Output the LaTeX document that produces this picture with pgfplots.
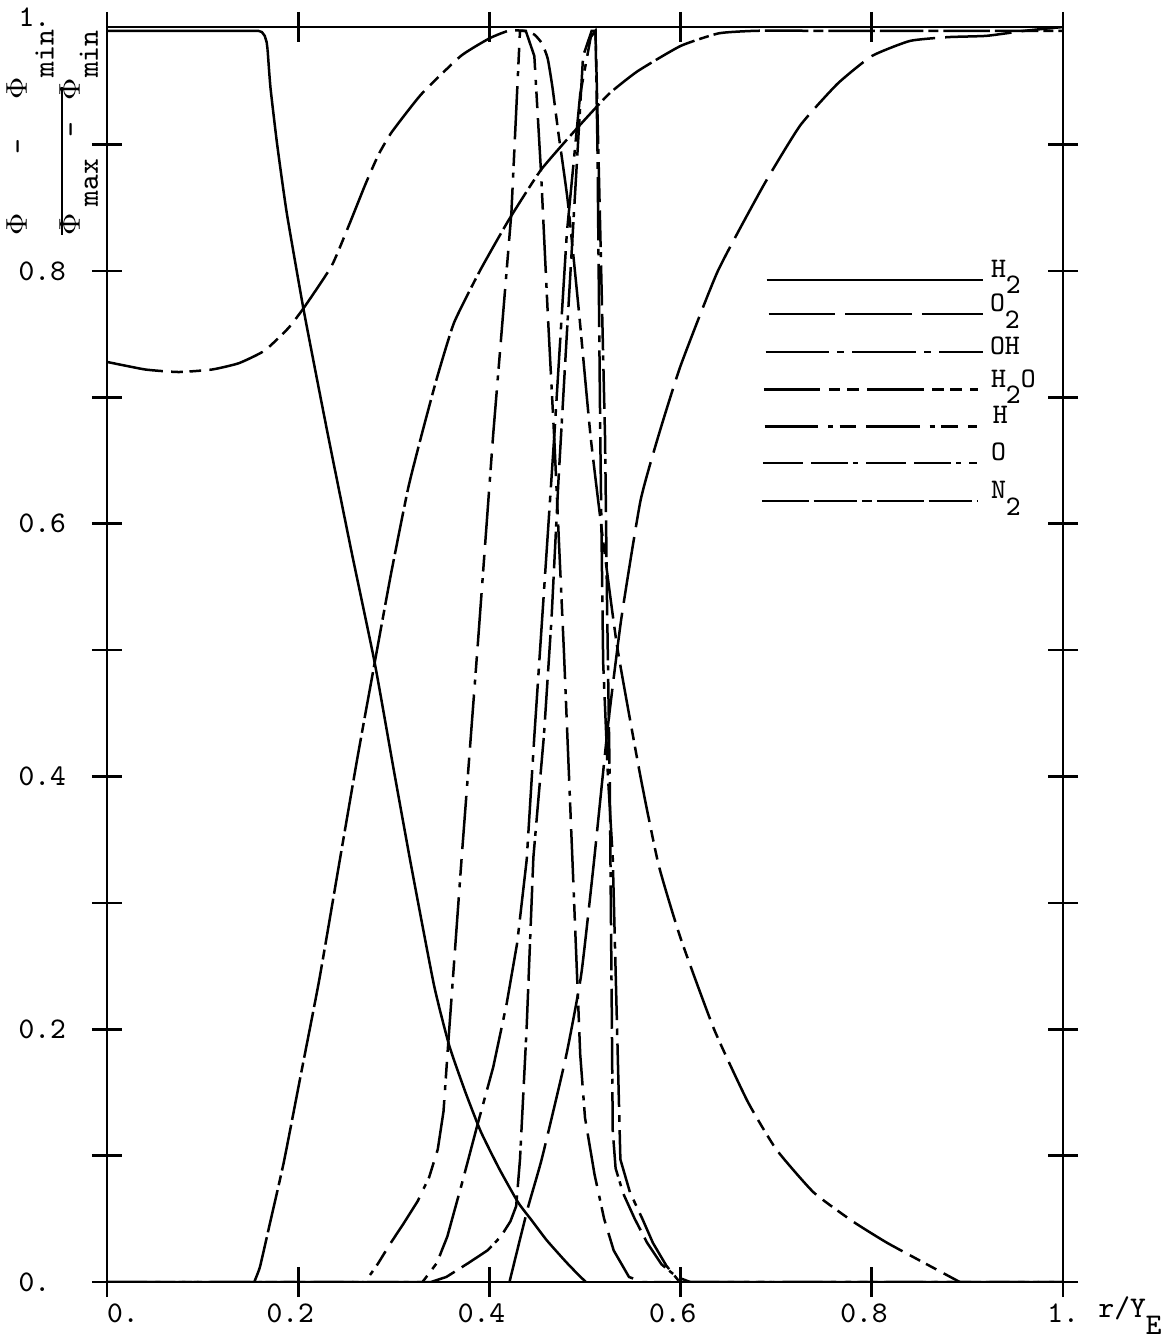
\documentclass[border=0pt]{standalone}
\usepackage{fontspec}
\usepackage{pgfplots}
\pgfplotsset{compat=1.18}

\tikzset{
 sH2/.style={solid},
 sO2/.style={dash pattern=on 20pt off 3pt},
 sOH/.style={dash pattern=on 19pt off 2.5pt on 2pt off 2.5pt},
 sH2O/.style={dash pattern=on 17pt off 2.5pt on 3.5pt off 2pt on 3.5pt off 2.5pt},
 sH/.style={dash pattern=on 16pt off 3pt on 1.5pt off 2pt on 5pt off 3pt},
 sO/.style={dash pattern=on 12pt off 2.5pt on 11pt off 1.5pt on 1.5pt off 2.5pt},
 sN2/.style={dash pattern=on 14pt off 1.5pt on 13pt off 1.5pt on 3pt off 1.5pt},
}
\newcommand{\tf}{\ttfamily\fontsize{9}{10}\selectfont}

\begin{document}
\begin{tikzpicture}
\begin{axis}[name=ax, scale only axis, width=286.8pt, height=376.5pt,
 xmin=0, xmax=1, ymin=0, ymax=0.993,
 axis line style={line width=0.8pt},
 tick style={line width=0.8pt, black},
 major tick length=9pt, tick align=center,
 xtick={0,0.2,0.4,0.6,0.8,1},
 xticklabels={\phantom{0.}0.,0.2\phantom{0},0.4\phantom{0},0.6\phantom{0},0.8\phantom{0},1.},
 ytick={0,0.1,0.2,0.3,0.4,0.5,0.6,0.7,0.8,0.9},
 yticklabels={0.,,0.2,,0.4,,0.6,,0.8,},
 xtick pos=both, ytick pos=both,
 xticklabel pos=lower, yticklabel pos=left,
 xticklabel style={font=\tf, inner sep=0pt, anchor=north, yshift=-1.8pt},
 yticklabel style={font=\tf, inner sep=0pt, anchor=west, xshift=-22.2pt},
 clip mode=individual,
 every axis plot/.append style={line width=0.75pt, black},
]
% H2
\addplot[sH2] coordinates {(0,0.99)(0.158,0.99)(0.162,0.989)(0.165,0.986)(0.167,0.981)(0.168,0.975)};
\addplot[sH2, smooth, tension=0.3] coordinates {(0.168,0.975)(0.171,0.945)(0.178,0.90)(0.188,0.846)(0.205,0.772)(0.22,0.713)(0.233,0.663)(0.256,0.577)(0.28,0.49)(0.3,0.405)(0.318,0.33)(0.342,0.235)(0.358,0.187)(0.375,0.15)(0.391,0.119)(0.41,0.09)(0.43,0.063)(0.444,0.049)(0.46,0.033)(0.48,0.016)(0.494,0.005)(0.501,0)};
\addplot[sH2] coordinates {(0.501,0)(1,0)};
% O2
\addplot[sO2, smooth, tension=0.3] coordinates {(0.421,0)(0.44,0.058)(0.455,0.098)(0.48,0.178)(0.496,0.243)(0.509,0.33)(0.524,0.44)(0.538,0.525)(0.558,0.618)(0.577,0.67)(0.6,0.725)(0.639,0.80)(0.687,0.868)(0.725,0.915)(0.764,0.948)(0.8,0.97)(0.84,0.982)(0.88,0.985)(0.92,0.986)(0.96,0.99)(1,0.993)};
\addplot[sO2] coordinates {(0,0)(0.421,0)};
% OH
\addplot[sOH] coordinates {(0,0)(0.33,0)(0.345,0.015)(0.356,0.036)(0.372,0.08)(0.387,0.123)(0.404,0.17)(0.418,0.22)(0.429,0.268)(0.439,0.334)(0.447,0.432)(0.461,0.591)(0.468,0.671)(0.481,0.83)(0.495,0.94)(0.506,0.985)(0.511,0.99)(0.513,0.9)(0.516,0.667)(0.519,0.49)(0.524,0.4)(0.529,0.336)(0.533,0.217)(0.537,0.097)(0.547,0.071)(0.56,0.05)(0.571,0.031)(0.585,0.013)(0.599,0)(1,0)};
% H2O
\addplot[sH2O, smooth, tension=0.3] coordinates {(0,0.728)(0.04,0.722)(0.075,0.72)(0.11,0.722)(0.138,0.727)(0.165,0.737)(0.19,0.755)(0.207,0.772)(0.235,0.804)(0.253,0.836)(0.27,0.868)(0.284,0.892)(0.298,0.91)(0.329,0.94)(0.37,0.97)(0.4,0.984)(0.42,0.99)(0.436,0.99)(0.447,0.987)(0.455,0.98)(0.461,0.968)(0.466,0.945)(0.472,0.91)(0.482,0.855)(0.494,0.765)(0.506,0.668)(0.52,0.58)(0.534,0.501)(0.558,0.40)(0.577,0.33)(0.6,0.272)(0.635,0.2)(0.67,0.143)(0.7,0.105)(0.739,0.071)(0.78,0.048)(0.816,0.031)(0.86,0.013)(0.892,0)};
\addplot[sH2O] coordinates {(0.892,0)(1,0)};
% H
\addplot[sH] coordinates {(0,0)(0.27,0)(0.283,0.014)(0.296,0.03)(0.31,0.046)(0.325,0.064)(0.337,0.083)(0.346,0.105)(0.352,0.135)(0.356,0.179)(0.371,0.336)(0.388,0.506)(0.404,0.671)(0.423,0.846)(0.43,0.958)(0.432,0.99)(0.438,0.99)(0.447,0.97)(0.454,0.878)(0.461,0.767)(0.468,0.665)(0.478,0.498)(0.487,0.331)(0.495,0.18)(0.5,0.13)(0.51,0.085)(0.52,0.05)(0.53,0.025)(0.546,0.004)(0.56,0)(1,0)};
% O
\addplot[sO] coordinates {(0,0)(0.339,0)(0.355,0.004)(0.378,0.015)(0.398,0.025)(0.412,0.036)(0.422,0.048)(0.428,0.06)(0.432,0.097)(0.439,0.202)(0.446,0.336)(0.451,0.38)(0.457,0.432)(0.465,0.525)(0.472,0.631)(0.481,0.75)(0.493,0.905)(0.498,0.97)(0.507,0.99)(0.511,0.99)(0.516,0.83)(0.521,0.667)(0.523,0.54)(0.526,0.39)(0.527,0.3)(0.528,0.215)(0.529,0.12)(0.532,0.09)(0.54,0.07)(0.552,0.05)(0.565,0.031)(0.58,0.014)(0.596,0.004)(0.61,0)(1,0)};
% N2
\addplot[sN2, smooth, tension=0.3] coordinates {(0.154,0)(0.16,0.012)(0.17,0.045)(0.185,0.095)(0.203,0.165)(0.222,0.239)(0.244,0.336)(0.262,0.415)(0.28,0.49)(0.297,0.56)(0.315,0.628)(0.329,0.67)(0.345,0.715)(0.363,0.759)(0.39,0.80)(0.42,0.84)(0.454,0.88)(0.493,0.914)(0.525,0.94)(0.555,0.958)(0.6,0.978)(0.64,0.988)(0.68,0.99)(0.75,0.99)(1,0.99)};
\addplot[sN2] coordinates {(0,0)(0.154,0)};
% legend lines
\addplot[sH2, forget plot] coordinates {(0.690,0.793)(0.916,0.793)};
\addplot[sO2, forget plot] coordinates {(0.692,0.766)(0.916,0.766)};
\addplot[sOH, forget plot] coordinates {(0.689,0.736)(0.916,0.736)};
\addplot[sH2O, forget plot] coordinates {(0.687,0.706)(0.911,0.706)};
\addplot[sH, forget plot] coordinates {(0.688,0.677)(0.910,0.677)};
\addplot[sO, forget plot] coordinates {(0.686,0.648)(0.910,0.648)};
\addplot[sN2, forget plot] coordinates {(0.685,0.618)(0.910,0.618)};
\begin{scope}[every node/.style={font=\ttfamily\fontsize{8.5}{10}\selectfont, inner sep=0pt, anchor=base west}]
\node at (axis cs:0.924,0.795) {H\raisebox{-5pt}{2}};
\node at (axis cs:0.923,0.768) {O\raisebox{-5pt}{2}};
\node at (axis cs:0.923,0.734) {OH};
\node at (axis cs:0.924,0.708) {H\raisebox{-5pt}{2}O};
\node at (axis cs:0.926,0.679) {H};
\node at (axis cs:0.924,0.650) {O};
\node at (axis cs:0.924,0.620) {N\raisebox{-5pt}{2}};
\end{scope}
\end{axis}
\begin{scope}[every node/.style={font=\tf, inner sep=0pt}]
\node[anchor=west] at ([shift={(-26.7pt,2.85pt)}]ax.north west) {1.};
\node[rotate=90, anchor=base west] at ([shift={(-24pt,-62.7pt)}]ax.north west) {$\Phi$\hspace{17.7pt}-\hspace{11.7pt}$\Phi$\raisebox{-8pt}{min}};
\node[rotate=90, anchor=base west] at ([shift={(-8.1pt,-62.7pt)}]ax.north west) {$\Phi$\hspace{2pt}\raisebox{-5.4pt}{max}\hspace{6.5pt}-\hspace{6.5pt}$\Phi$\raisebox{-5.4pt}{min}};
\node[anchor=base west] at ([shift={(10.5pt,-10.8pt)}]ax.south east) {r/Y\raisebox{-5pt}{E}};
\end{scope}
\draw[line width=0.7pt] ([shift={(-13.5pt,-18pt)}]ax.north west) -- ([shift={(-13.5pt,-62.4pt)}]ax.north west);
\pgfresetboundingbox
\path[use as bounding box] ([shift={(-32.1pt,-16.5pt)}]ax.south west) rectangle ([shift={(33.6pt,8.1pt)}]ax.north east);
\end{tikzpicture}
\end{document}
